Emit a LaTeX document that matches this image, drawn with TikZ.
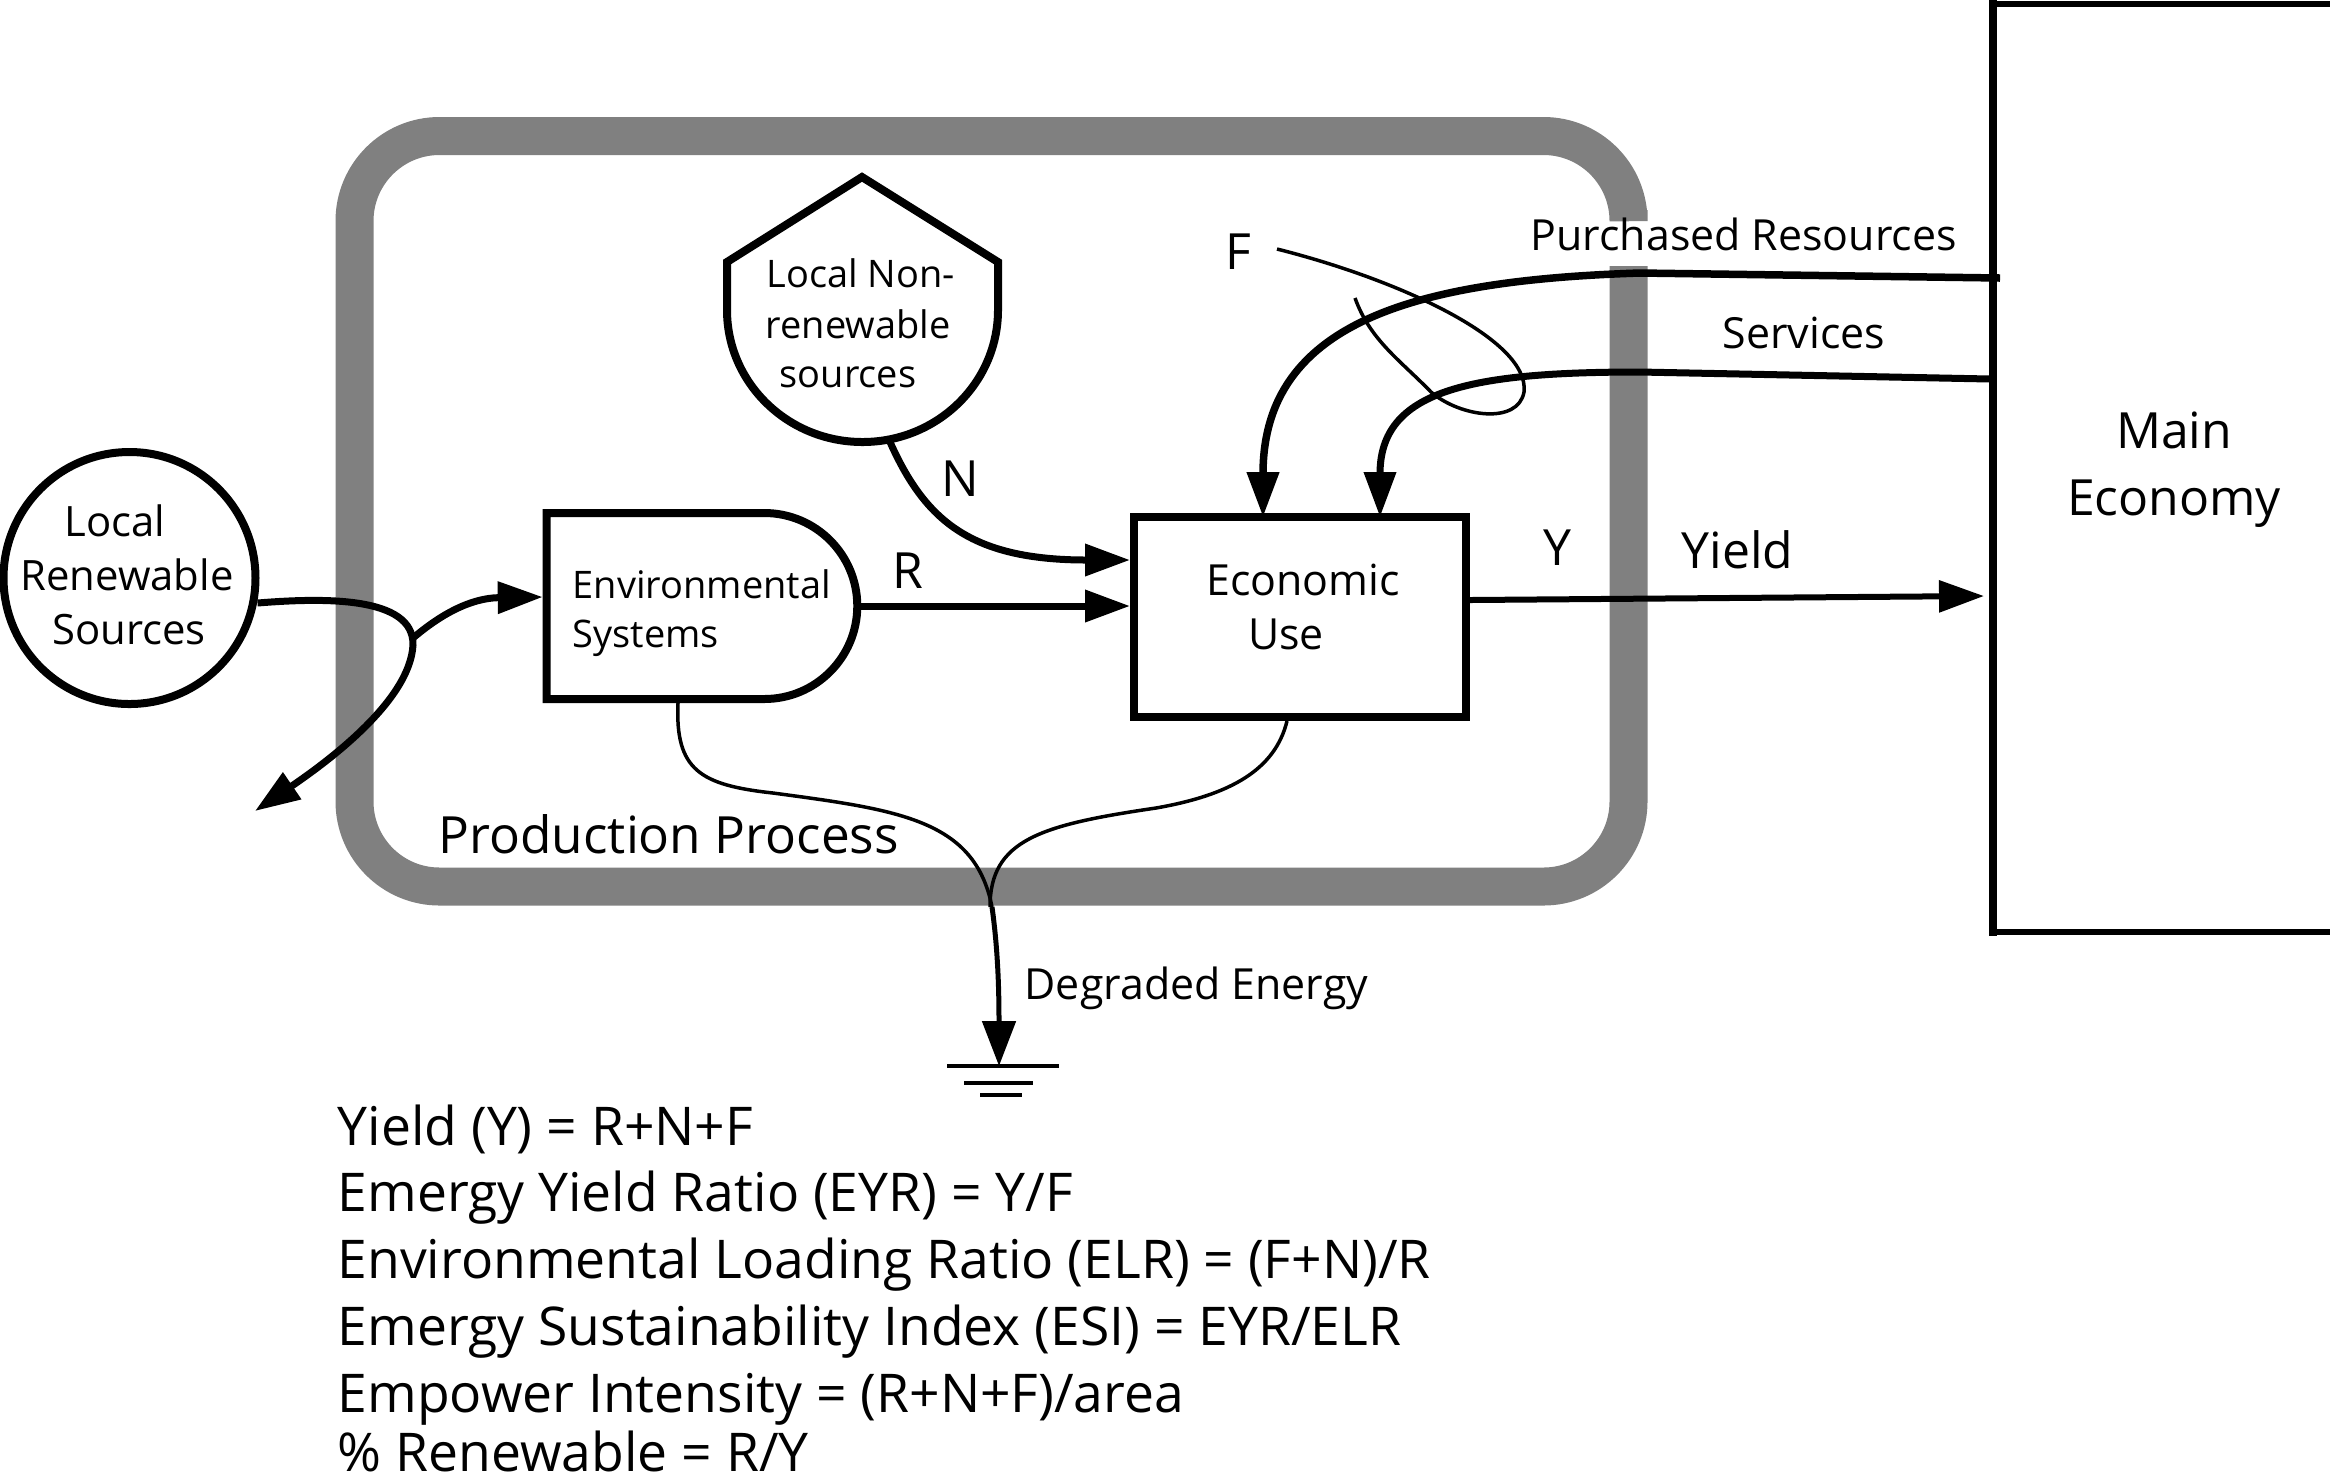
\documentclass[tikz,border=0pt]{standalone}
\usepackage{fontspec}
\setmainfont{Open Sans}
\usetikzlibrary{arrows.meta,shapes.misc}
\tikzset{
  txtsmall/.style={font=\fontsize{10.8}{13.9}\selectfont, inner sep=0pt},
  txtmid/.style={font=\fontsize{11.9}{15}\selectfont, inner sep=0pt},
  txtlabel/.style={font=\fontsize{12.2}{15}\selectfont, inner sep=0pt},
  txtbig/.style={font=\fontsize{14.2}{19}\selectfont, inner sep=0pt},
  txteq/.style={font=\fontsize{15.2}{19}\selectfont, inner sep=0pt},
  heavy/.style={draw, line width=0.08cm, fill=white},
  flow/.style={line width=0.07cm, -{Triangle[length=0.45cm,width=0.31cm]}},
  drain/.style={line width=0.035cm},
}
\begin{document}
\begin{tikzpicture}
  \useasboundingbox (0,0) rectangle (23.3,-14.8);
  \draw[line width=0.38cm, color=black!50, rounded corners=0.85cm] (16.285,-2.1) -- (16.285,-1.36) -- (3.545,-1.36)
        -- (3.545,-8.865) -- (16.285,-8.865) -- (16.285,-2.66);
  \draw[line width=0.055cm] (23.3,-0.04) -- (19.93,-0.04);
  \draw[line width=0.055cm] (23.3,-9.32) -- (19.93,-9.32);
  \draw[line width=0.08cm] (19.93,0) -- (19.93,-9.36);

  \node[heavy, circle, minimum size=2.52cm, inner sep=0pt] (renew) at (1.295,-5.78) {};
  \node[heavy, rounded rectangle, rounded rectangle west arc=none, minimum width=3.34cm, minimum height=1.86cm] (envsys) at (7.02,-6.06) {};
  \node[heavy, minimum width=3.32cm, minimum height=2cm] (econ) at (13,-6.17) {};
  \draw[heavy] (7.27,-2.62) -- (8.62,-1.77) -- (9.98,-2.62) -- (9.98,-3.1) arc (0:-180:1.355 and 1.32) -- cycle;
  \coordinate (nonrenew) at (8.9,-4.42);
  \coordinate (mainyield) at (19.84,-5.96);
  \coordinate (sink) at (9.99,-10.66);
  \coordinate (split) at (4.13,-6.38);
  \coordinate (waste) at (2.55,-8.11);

  \node[txtmid, anchor=base] (renewtxt) at (1.15,-5.36) {Local};
  \node[txtmid, anchor=base] (renewtxtb) at (1.27,-5.9) {Renewable};
  \node[txtmid, anchor=base] (renewtxtc) at (1.29,-6.44) {Sources};
  \node[txtsmall, anchor=base west] (envtxt) at (5.72,-5.98) {Environmental};
  \node[txtsmall, anchor=base west] (envtxtb) at (5.72,-6.47) {Systems};
  \node[txtlabel, anchor=base] (econtxt) at (13.03,-5.95) {Economic};
  \node[txtlabel, anchor=base] (econtxtb) at (12.86,-6.49) {Use};
  \node[txtsmall, anchor=base west] (nonrenewtxt) at (7.66,-2.87) {Local Non-};
  \node[txtsmall, anchor=base west] (nonrenewtxtb) at (7.65,-3.38) {renewable};
  \node[txtsmall, anchor=base west] (nonrenewtxtc) at (7.79,-3.87) {sources};

  \draw[flow] (renew.east) ++(-0.02,-0.25) .. controls (3.2,-5.98) and (4.14,-5.95) .. (4.13,-6.45)
        .. controls (4.1,-7.0) and (3.3,-7.6) .. (waste);
  \draw[flow] (split) .. controls (4.4,-6.15) and (4.7,-5.98) .. (envsys.west |- 0,-5.97);
  \draw[flow] (nonrenew) .. controls (9.25,-5.2) and (9.7,-5.6) .. (econ.west |- 0,-5.6);
  \draw[flow] (envsys.east) -- (econ.west |- envsys.east);
  \draw[flow, line width=0.06cm] (econ.east) ++(0,0.17) -- (mainyield);
  \draw[flow, line width=0.075cm] (20,-2.78) -- (16.4,-2.73) .. controls (14.2,-2.8) and (12.63,-3.2) .. (12.63,-5.17);
  \draw[flow] (19.9,-3.79) -- (16.4,-3.72) .. controls (14.7,-3.72) and (13.8,-3.9) .. (13.8,-5.17);

  \draw[drain] (12.77,-2.49) .. controls (14.0,-2.8) and (15.3,-3.4) .. (15.24,-3.92)
        .. controls (15.18,-4.25) and (14.6,-4.17) .. (14.31,-3.92) .. controls (14.0,-3.6) and (13.7,-3.4) .. (13.55,-2.98);

  \draw[drain] (6.78,-7.03) .. controls (6.75,-7.7) and (7.0,-7.85) .. (7.73,-7.93)
        .. controls (9.0,-8.1) and (9.75,-8.2) .. (9.92,-9.07);
  \draw[drain] (econ.south -| 12.87,0) .. controls (12.75,-7.7) and (12.3,-7.95) .. (11.56,-8.08)
        .. controls (10.4,-8.25) and (9.9,-8.4) .. (9.9,-9.07);
  \draw[line width=0.05cm, -{Triangle[length=0.45cm,width=0.33cm]}] (9.92,-9.07) .. controls (9.98,-9.5) and (9.99,-9.9) .. (sink);

  \draw[line width=0.04cm] (9.47,-10.66) -- (10.59,-10.66);
  \draw[line width=0.04cm] (9.64,-10.83) -- (10.33,-10.83);
  \draw[line width=0.04cm] (9.8,-10.95) -- (10.22,-10.95);

  \node[txtlabel, anchor=base west] (boughttxt) at (15.3,-2.5) {Purchased Resources};
  \node[txtlabel, anchor=base west] (servicetxt) at (17.22,-3.48) {Services};
  \node[txtlabel, anchor=base west] (degradetxt) at (10.24,-9.99) {Degraded Energy};
  \node[txtbig, anchor=base west] (fluxf) at (12.25,-2.69) {F};
  \node[txtbig, anchor=base west] (fluxn) at (9.41,-4.96) {N};
  \node[txtbig, anchor=base west] (fluxr) at (8.92,-5.88) {R};
  \node[txtbig, anchor=base west] (fluxy) at (15.43,-5.65) {Y};
  \node[txtbig, anchor=base west] (yieldtxt) at (16.81,-5.68) {Yield};
  \node[txtbig, font=\fontsize{14.6}{19}\selectfont, anchor=base west] (prodtxt) at (4.38,-8.53) {Production Process};
  \node[txtbig, anchor=base] (maintxt) at (21.74,-4.48) {Main};
  \node[txtbig, anchor=base] (maintxtb) at (21.74,-5.15) {Economy};

  \node[txteq, anchor=base west] (eqyield) at (3.37,-11.45) {Yield (Y) = R+N+F};
  \node[txteq, anchor=base west] (eqeyr) at (3.37,-12.11) {Emergy Yield Ratio (EYR) = Y/F};
  \node[txteq, anchor=base west] (eqelr) at (3.37,-12.78) {Environmental Loading Ratio (ELR) = (F+N)/R};
  \node[txteq, anchor=base west] (eqesi) at (3.37,-13.45) {Emergy Sustainability Index (ESI) = EYR/ELR};
  \node[txteq, anchor=base west] (eqpower) at (3.37,-14.12) {Empower Intensity = (R+N+F)/area};
  \node[txteq, anchor=base west] (eqrenew) at (3.37,-14.71) {\% Renewable = R/Y};
\end{tikzpicture}
\end{document}
